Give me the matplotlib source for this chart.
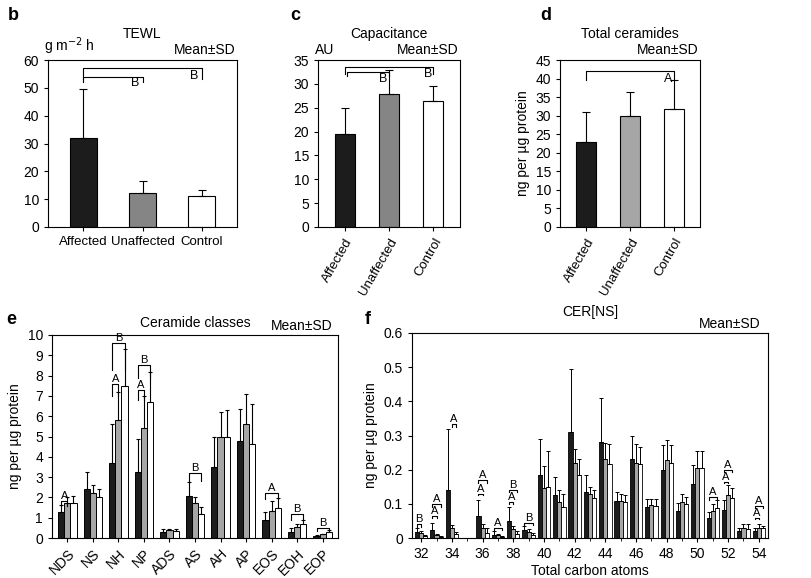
import matplotlib
matplotlib.use("Agg")
import matplotlib.pyplot as plt
import numpy as np

plt.rcParams['font.family'] = ['Liberation Sans', 'DejaVu Sans']

groups3 = ["Affected", "Unaffected", "Control"]
tewl = [32, 12.3, 11]
tewl_sd = [17.5, 4.2, 2.2]
cap = [19.5, 27.8, 26.5]
cap_sd = [5.5, 5.2, 3.0]
tcer = [22.8, 30.0, 31.8]
tcer_sd = [8.2, 6.5, 7.7]

classes = ["NDS", "NS", "NH", "NP", "ADS", "AS", "AH", "AP", "EOS", "EOH", "EOP"]
cls_aff = [1.3, 2.4, 3.7, 3.25, 0.3, 2.05, 3.5, 4.8, 0.9, 0.3, 0.1]
cls_una = [1.7, 2.2, 5.8, 5.4, 0.38, 1.7, 5.0, 5.6, 1.35, 0.55, 0.18]
cls_con = [1.7, 2.0, 7.5, 6.7, 0.35, 1.2, 5.0, 4.65, 1.5, 0.7, 0.3]
cls_aff_sd = [0.35, 0.85, 1.9, 1.65, 0.12, 0.7, 1.5, 1.55, 0.4, 0.2, 0.05]
cls_una_sd = [0.3, 0.4, 1.4, 1.6, 0.07, 0.3, 1.2, 1.5, 0.45, 0.15, 0.04]
cls_con_sd = [0.35, 0.4, 1.8, 1.5, 0.07, 0.35, 1.3, 1.95, 0.45, 0.2, 0.08]

carbons = list(range(32, 55))
ns_aff = [0.018, 0.022, 0.14, 0, 0.065, 0.01, 0.05, 0.022, 0.185, 0.125, 0.31, 0.135, 0.28, 0.108, 0.23, 0.09, 0.2, 0.08, 0.158, 0.06, 0.082, 0.02, 0.02]
ns_una = [0.015, 0.008, 0.028, 0, 0.03, 0.008, 0.025, 0.018, 0.145, 0.105, 0.22, 0.13, 0.232, 0.108, 0.22, 0.097, 0.228, 0.105, 0.205, 0.08, 0.125, 0.03, 0.03]
ns_con = [0.005, 0.003, 0.012, 0, 0.015, 0.004, 0.012, 0.01, 0.15, 0.092, 0.185, 0.118, 0.218, 0.105, 0.218, 0.095, 0.22, 0.1, 0.205, 0.088, 0.118, 0.025, 0.03]
ns_aff_sd = [0.01, 0.023, 0.18, 0, 0.045, 0.01, 0.04, 0.013, 0.105, 0.053, 0.185, 0.05, 0.13, 0.027, 0.07, 0.025, 0.073, 0.022, 0.057, 0.015, 0.03, 0.01, 0.008]
ns_una_sd = [0.005, 0.005, 0.01, 0, 0.01, 0.005, 0.01, 0.007, 0.065, 0.035, 0.04, 0.018, 0.046, 0.022, 0.055, 0.018, 0.06, 0.023, 0.051, 0.02, 0.03, 0.01, 0.01]
ns_con_sd = [0.003, 0.002, 0.006, 0, 0.015, 0.003, 0.008, 0.005, 0.105, 0.038, 0.045, 0.022, 0.057, 0.02, 0.047, 0.02, 0.053, 0.02, 0.051, 0.024, 0.027, 0.015, 0.005]

BLACK = "#1c1c1c"
GRAY = "#858585"
LGRAY = "#a6a6a6"
W = 811
H = 578
fig = plt.figure(figsize=(8.11, 5.78), dpi=100)

def px(l, t, r, b):
    return [l / W, 1 - b / H, (r - l) / W, (b - t) / H]

def letter(x, y, s):
    fig.text(x / W, 1 - y / H, s, fontsize=13, fontweight="bold", ha="left", va="center")

def bracket_below(ax, x1, x2, y, h, txt, fs=9):
    ax.plot([x1, x1, x2, x2], [y - h, y, y, y - h], color="k", lw=0.8, clip_on=False)
    ax.text(x2 - 0.12, y - h * 0.15, txt, ha="center", va="top", fontsize=fs, clip_on=False)

def bracket(ax, x1, x2, y, h, txt, fs=8):
    ax.plot([x1, x1, x2, x2], [y - h, y, y, y - h], color="k", lw=0.8, clip_on=False)
    ax.text((x1 + x2) / 2, y, txt, ha="center", va="bottom", fontsize=fs, clip_on=False)

def style(ax):
    ax.tick_params(labelsize=10, length=3, width=0.8)
    for s in ax.spines.values():
        s.set_linewidth(0.8)

def three(ax, vals, sds, colors, ylim, yticks, rot, title, ylabel=None, unit=None):
    x = np.arange(3)
    ax.bar(x, vals, 0.45, color=colors, edgecolor="k", linewidth=0.8,
           yerr=[np.zeros(3), sds], capsize=3, error_kw=dict(lw=0.8, capthick=0.8))
    ax.set_xlim(-0.6, 2.6)
    ax.set_ylim(*ylim)
    ax.set_yticks(yticks)
    ax.set_xticks(x)
    style(ax)
    ax.set_xticklabels(groups3, rotation=rot, ha="right" if rot else "center",
                       rotation_mode="anchor" if rot else "default", fontsize=9.5)
    ax.set_title(title, fontsize=10, pad=16)
    ax.text(0.99, 1.02, "Mean±SD", transform=ax.transAxes, ha="right", va="bottom", fontsize=10)
    if unit:
        ax.text(-0.02, 1.02, unit, transform=ax.transAxes, ha="left", va="bottom", fontsize=10)
    if ylabel:
        ax.set_ylabel(ylabel, fontsize=10)

axb = fig.add_axes(px(48, 60, 237, 227))
three(axb, tewl, tewl_sd, [BLACK, GRAY, "white"], (0, 60), range(0, 61, 10), 0, "TEWL", unit="g m$^{-2}$ h")
bracket_below(axb, 0, 2, 57, 4, "B")
bracket_below(axb, 0, 1, 54, 1.8, "B")

axc = fig.add_axes(px(318, 60, 460, 227))
three(axc, cap, cap_sd, [BLACK, GRAY, "white"], (0, 35), range(0, 36, 5), 60, "Capacitance", unit="AU")
bracket_below(axc, 0, 2, 33.5, 1.5, "B")
bracket_below(axc, 0.05, 1, 32.5, 0.8, "B")

axd = fig.add_axes(px(560, 60, 700, 227))
three(axd, tcer, tcer_sd, [BLACK, LGRAY, "white"], (0, 45), range(0, 46, 5), 60, "Total ceramides",
      ylabel="ng per µg protein")
bracket_below(axd, 0, 2, 42, 2.5, "A")

letter(8, 15, "b")
letter(290, 15, "c")
letter(540, 15, "d")
letter(6, 320, "e")
letter(365, 320, "f")

# panel e
axe = fig.add_axes(px(52, 335, 338, 538))
x = np.arange(len(classes))
bw = 0.24
ek = dict(lw=0.8, capthick=0.8)
for off, v, s, c in [(-bw, cls_aff, cls_aff_sd, BLACK), (0, cls_una, cls_una_sd, LGRAY), (bw, cls_con, cls_con_sd, "white")]:
    axe.bar(x + off, v, bw, color=c, edgecolor="k", linewidth=0.7,
            yerr=[np.zeros(len(v)), s], capsize=1.5, error_kw=ek)
axe.set_xlim(-0.6, len(classes) - 0.4)
axe.set_ylim(0, 10)
axe.set_yticks(range(0, 11))
axe.set_xticks(x)
style(axe)
axe.set_xticklabels(classes, rotation=45, ha="right", rotation_mode="anchor")
axe.set_ylabel("ng per µg protein", fontsize=10)
axe.set_title("Ceramide classes", fontsize=10, pad=6)
axe.text(0.98, 1.01, "Mean±SD", transform=axe.transAxes, ha="right", va="bottom", fontsize=10)
bracket(axe, -bw, 0, 1.8, 0.2, "A")
bracket(axe, 2 - bw, 2 + bw, 9.6, 1.3, "B")
bracket(axe, 2 - bw, 2, 7.6, 0.6, "A")
bracket(axe, 3 - bw, 3 + bw, 8.5, 0.6, "B")
bracket(axe, 3 - bw, 3, 7.3, 0.5, "A")
bracket(axe, 5 - bw, 5 + bw, 3.2, 0.4, "B")
bracket(axe, 8 - bw, 8 + bw, 2.2, 0.3, "A")
bracket(axe, 9 - bw, 9 + bw, 1.2, 0.3, "B")
bracket(axe, 10 - bw, 10 + bw, 0.5, 0.15, "B")

# panel f
axf = fig.add_axes(px(412, 333, 768, 538))
xc = np.array(carbons)
bw = 0.27
for off, v, s, c in [(-bw, ns_aff, ns_aff_sd, BLACK), (0, ns_una, ns_una_sd, LGRAY), (bw, ns_con, ns_con_sd, "white")]:
    m = np.array(v) > 0
    axf.bar(xc[m] + off, np.array(v)[m], bw, color=c, edgecolor="k", linewidth=0.6,
            yerr=[np.zeros(m.sum()), np.array(s)[m]], capsize=1.2, error_kw=dict(lw=0.7, capthick=0.7))
axf.set_xlim(31.4, 54.6)
axf.set_ylim(0, 0.6)
axf.set_yticks(np.arange(0, 0.61, 0.1))
axf.set_yticklabels(["0", "0.1", "0.2", "0.3", "0.4", "0.5", "0.6"])
axf.set_xticks(range(32, 55, 2))
axf.set_xticks(range(33, 55, 2), minor=True)
axf.tick_params(which="minor", length=2)
style(axf)
axf.set_ylabel("ng per µg protein", fontsize=10)
axf.set_xlabel("Total carbon atoms", fontsize=10, labelpad=2)
axf.set_title("CER[NS]", fontsize=10, pad=12)
axf.text(0.98, 1.01, "Mean±SD", transform=axf.transAxes, ha="right", va="bottom", fontsize=10)
bracket(axf, 32 - bw, 32, 0.04, 0.008, "B")
bracket(axf, 33 - bw, 33 + bw, 0.1, 0.008, "A")
bracket(axf, 33 - bw, 33, 0.065, 0.005, "A")
bracket(axf, 34, 34 + bw, 0.335, 0.01, "A")
bracket(axf, 36 - bw, 36 + bw, 0.17, 0.008, "A")
bracket(axf, 36 - bw, 36, 0.13, 0.005, "A")
bracket(axf, 37 - bw, 37 + bw, 0.03, 0.006, "A")
bracket(axf, 38 - bw, 38 + bw, 0.14, 0.006, "B")
bracket(axf, 38 - bw, 38, 0.105, 0.005, "A")
bracket(axf, 39 - bw, 39 + bw, 0.045, 0.008, "B")
bracket(axf, 51 - bw, 51 + bw, 0.12, 0.008, "A")
bracket(axf, 52 - bw, 52 + bw, 0.2, 0.008, "A")
bracket(axf, 52 - bw, 52, 0.165, 0.005, "A")
bracket(axf, 54 - bw, 54 + bw, 0.095, 0.008, "A")
bracket(axf, 54 - bw, 54, 0.06, 0.005, "A")

fig.savefig("out.png", dpi=100)
